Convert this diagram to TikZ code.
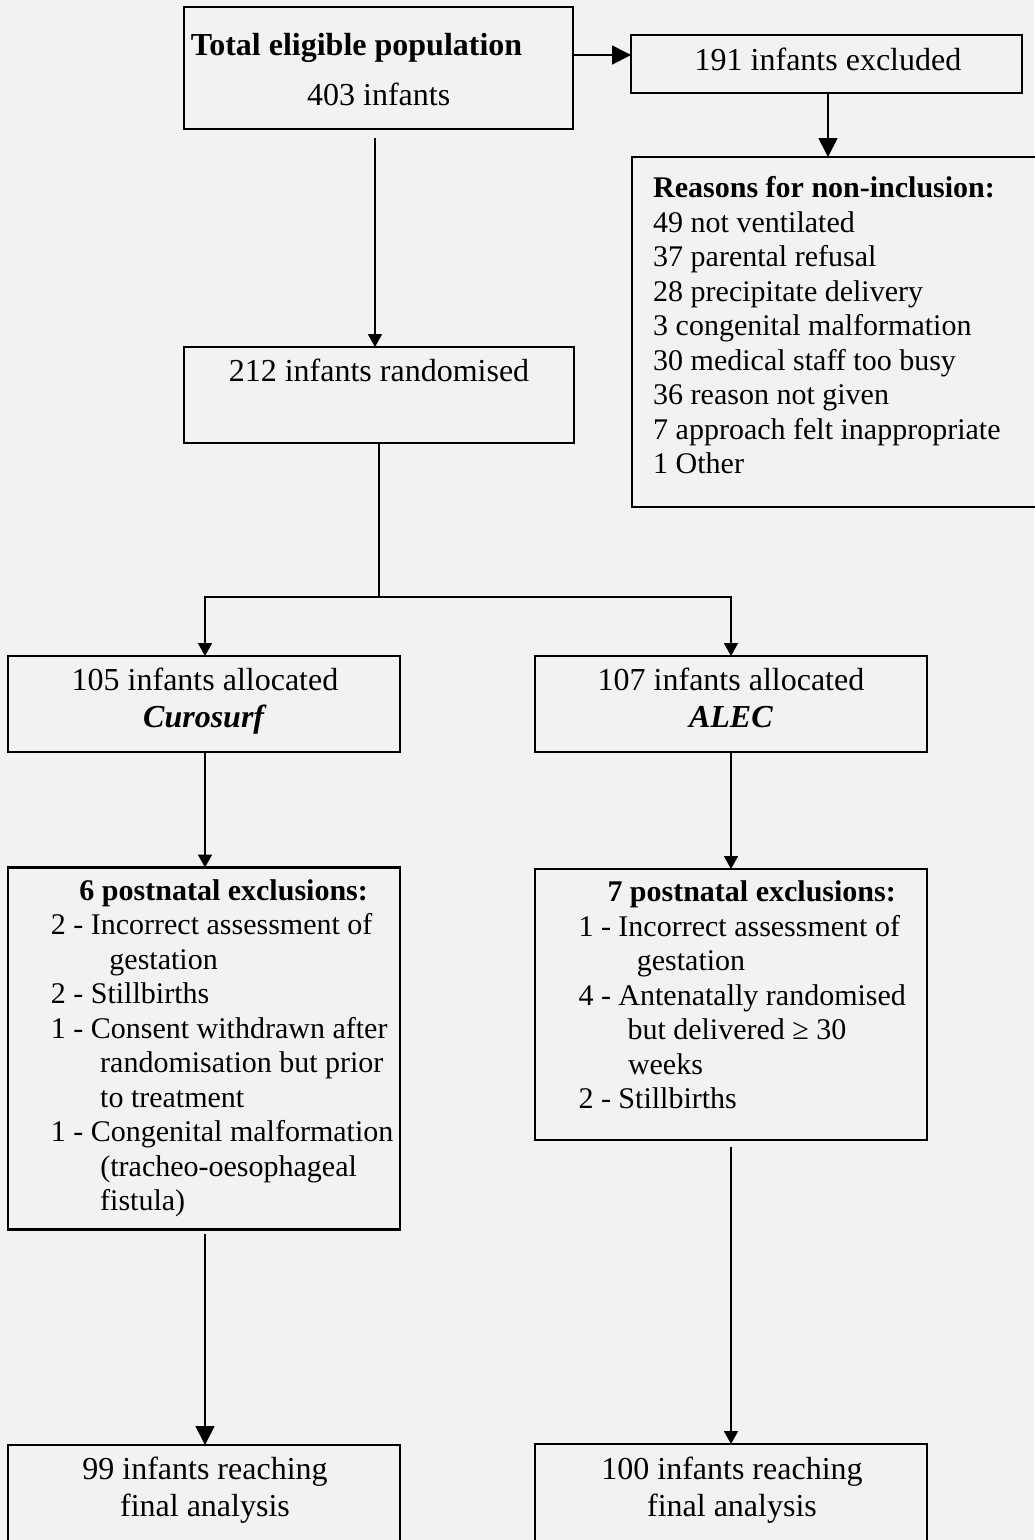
\documentclass[tikz,border=0pt]{standalone}
\usepackage{fontspec}
\setmainfont{Liberation Serif}
\usetikzlibrary{arrows.meta}
\definecolor{bgc}{RGB}{242,242,242}
\begin{document}
\begin{tikzpicture}[x=1pt,y=-1pt,
  box/.style={draw=black, line width=2.2pt, inner sep=0pt, outer sep=0pt},
  conn/.style={line width=1.8pt, -{Triangle[length=13pt,width=14pt]}},
  bigconn/.style={line width=1.8pt, -{Triangle[length=19pt,width=19pt]}},
  plainconn/.style={line width=1.8pt},
  bigtxt/.style={font=\fontsize{32}{36.8}\selectfont, inner sep=0pt},
  smalltxt/.style={font=\fontsize{30}{34.5}\selectfont, inner sep=0pt, align=left},
]
\fill[bgc] (0,0) rectangle (1034,1540);
\useasboundingbox (0,0) rectangle (1034,1540);

% boxes
\node[box, minimum width=389pt, minimum height=122pt] (top)  at (378.5,68) {};
\node[box, minimum width=391pt, minimum height=58pt]  (excl) at (826.5,64) {};
\node[box, minimum width=413pt, minimum height=350pt] (reas) at (838.5,332) {};
\node[box, minimum width=390pt, minimum height=96pt]  (rand) at (379,395) {};
\node[box, minimum width=392pt, minimum height=96pt]  (cur)  at (204,704) {};
\node[box, minimum width=392pt, minimum height=96pt]  (alec) at (731,704) {};
\node[box, minimum width=392pt, minimum height=362pt] (pa)   at (204,1048.5) {};
\node[box, minimum width=392pt, minimum height=271pt] (pb)   at (731,1004.5) {};
\node[box, minimum width=392pt, minimum height=110pt] (fina) at (204,1500) {};
\node[box, minimum width=392pt, minimum height=111pt] (finb) at (731,1499.5) {};

% texts
\node[bigtxt, anchor=base west] (ttopa) at (190.7,55) {\bfseries Total eligible population};
\node[bigtxt, anchor=base] (ttopb) at (378.7,105) {403 infants};
\node[bigtxt, anchor=base] (texcl) at (828,70) {191 infants excluded};
\node[smalltxt, anchor=north west] (treas) at (653,173.5) {\strut\textbf{Reasons for non-inclusion:}\\
49 not ventilated\\
37 parental refusal\\
28 precipitate delivery\\
3 congenital malformation\\
30 medical staff too busy\\
36 reason not given\\
7 approach felt inappropriate\\
1 Other};
\node[bigtxt, anchor=base] (trand) at (379,381.7) {212 infants randomised};
\node[bigtxt, anchor=north, align=center] (tcur) at (205,664.9) {\strut 105 infants allocated\\\textbf{\textit{Curosurf}}};
\node[bigtxt, anchor=north, align=center] (talec) at (731,664.9) {\strut 107 infants allocated\\\textbf{\textit{ALEC}}};
\node[smalltxt, anchor=north west] (tpa) at (50.7,875.85) {\strut\hspace*{28.6pt}\textbf{6 postnatal exclusions:}\\
2 - Incorrect assessment of\\
\hspace*{58.6pt}gestation\\
2 - Stillbirths\\
1 - Consent withdrawn after\\
\hspace*{49.3pt}randomisation but prior\\
\hspace*{49.3pt}to treatment\\
1 - Congenital malformation\\
\hspace*{49.5pt}(tracheo-oesophageal\\
\hspace*{49.3pt}fistula)};
\node[smalltxt, anchor=north west] (tpb) at (578.3,877.55) {\strut\hspace*{29pt}\textbf{7 postnatal exclusions:}\\
1 - Incorrect assessment of\\
\hspace*{58.4pt}gestation\\
4 - Antenatally randomised\\
\hspace*{49pt}but delivered ≥ 30\\
\hspace*{49.5pt}weeks\\
2 - Stillbirths};
\node[bigtxt, anchor=north, align=center] (tfina) at (205,1453.5) {\strut 99 infants reaching\\final analysis};
\node[bigtxt, anchor=north, align=center] (tfinb) at (732,1453.5) {\strut 100 infants reaching\\final analysis};

% connectors
\draw[bigconn] ([yshift=13pt]top.east) -- ([yshift=13pt]top.east -| excl.west);
\draw[bigconn] ([xshift=1.5pt]excl.south) -- ([xshift=1.5pt]excl.south |- reas.north);
\draw[conn] ([xshift=-3.5pt,yshift=-9pt]top.south) -- ([xshift=-3.5pt]top.south |- rand.north);
\coordinate (split) at (379,597);
\draw[plainconn] (rand.south) -- (split);
\draw[conn] (split) -| ([xshift=1pt]cur.north);
\draw[conn] (split) -| (alec.north);
\draw[conn] ([xshift=1pt]cur.south) -- ([xshift=1pt]pa.north);
\draw[conn] (alec.south) -- (pb.north);
\draw[bigconn] ([xshift=1pt,yshift=-4pt]pa.south) -- ([xshift=1pt]fina.north);
\draw[conn] ([yshift=-7pt]pb.south) -- (finb.north);
\end{tikzpicture}
\end{document}
